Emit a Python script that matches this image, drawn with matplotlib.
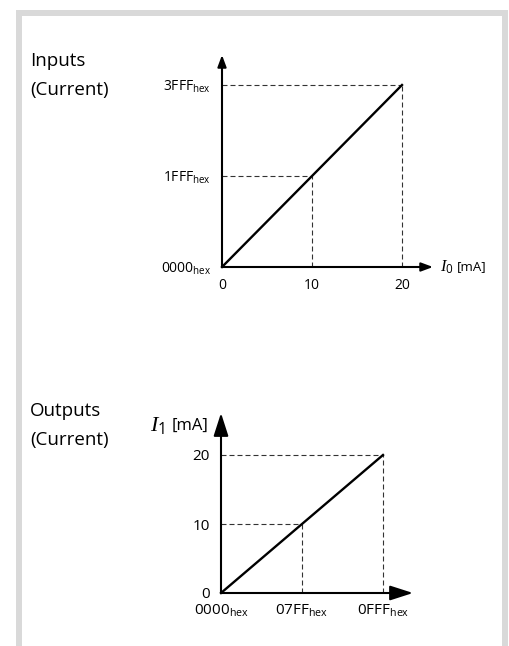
import matplotlib.pyplot as plt
from matplotlib.patches import Rectangle

plt.rcParams['font.family'] = ['Open Sans', 'DejaVu Sans']
plt.rcParams['mathtext.fontset'] = 'custom'
plt.rcParams['mathtext.rm'] = 'Open Sans'
plt.rcParams['mathtext.it'] = 'Liberation Serif:italic'

# Inputs: current [mA] -> hex code
in_current = [0, 10, 20]
in_code = [0x0000, 0x1FFF, 0x3FFF]
in_code_labels = ['0000', '1FFF', '3FFF']

# Outputs: hex code -> current [mA]
out_code = [0x0000, 0x07FF, 0x0FFF]
out_code_labels = ['0000', '07FF', '0FFF']
out_current = [0, 10, 20]

W, H = 509, 646
GRAY = '#d9d9d9'


def axes_rect(x0, y0, x_tip, y_tip):
    # pixel positions (origin and arrow tips) -> figure fraction
    return [x0 / W, 1 - y0 / H, (x_tip - x0) / W, (y0 - y_tip) / H]


def hexlab(s):
    return s + r'$_{\mathrm{hex}}$'


def draw_panel(ax, xs, ys, xmax, ymax, xlabels, ylabels, fs, head, xpad, ypad):
    ax.set_xlim(0, xmax)
    ax.set_ylim(0, ymax)
    for s in ax.spines.values():
        s.set_visible(False)
    ax.patch.set_alpha(0)

    # dashed guides
    for x, y in zip(xs[1:], ys[1:]):
        ax.hlines(y, 0, x, colors='#333333', lw=0.8, linestyles=(0, (4.5, 2.7)), zorder=1)
        ax.vlines(x, 0, y, colors='#333333', lw=0.8, linestyles=(0, (4.5, 2.7)), zorder=1)

    ax.plot(xs, ys, color='black', lw=1.7, clip_on=False, zorder=3)

    # axes with arrows
    hl, hw = head
    style = f'-|>,head_length={hl},head_width={hw}'
    for tip in [(1, 0), (0, 1)]:
        ax.annotate('', xy=tip, xytext=(0, 0), xycoords='axes fraction',
                    arrowprops=dict(arrowstyle=style, lw=1.5, color='black',
                                    shrinkA=0, shrinkB=0, mutation_scale=1),
                    zorder=4)

    ax.set_xticks(xs, labels=xlabels)
    ax.set_yticks(ys, labels=ylabels)
    ax.tick_params(axis='x', length=0, labelsize=fs, pad=xpad)
    ax.tick_params(axis='y', length=0, labelsize=fs, pad=ypad)


fig = plt.figure(figsize=(W / 100, H / 100), dpi=100)

# gray frame
for x, y, w, h in [(16, 10, 492, 6), (16, 10, 6, 636), (502, 10, 6, 636)]:
    fig.patches.append(Rectangle((x / W, 1 - (y + h) / H), w / W, h / H,
                                 transform=fig.transFigure, color=GRAY, lw=0))

# top panel: inputs
ax1 = fig.add_axes(axes_rect(222, 267, 433, 55))
draw_panel(ax1, in_current, in_code,
           20 * 211 / 180, in_code[-1] * 212 / 182,
           [str(v) for v in in_current], [hexlab(s) for s in in_code_labels],
           10, (7, 2.6), 8, 8)
ax1.annotate(r'$I_{\mathrm{0}}$', xy=(1, 0), xycoords='axes fraction',
             xytext=(5, 0), textcoords='offset points',
             ha='left', va='center', fontsize=12)
ax1.annotate('[mA]', xy=(1, 0), xycoords='axes fraction',
             xytext=(17, 0), textcoords='offset points',
             ha='left', va='center', fontsize=9.5)

# bottom panel: outputs
ax2 = fig.add_axes(axes_rect(221, 593, 413, 413))
draw_panel(ax2, out_code, out_current,
           out_code[-1] * 192 / 162, 20 * 180 / 138,
           [hexlab(s) for s in out_code_labels], [str(v) for v in out_current],
           11, (14, 4.5), 7, 8)
ax2.annotate('[mA]', xy=(0, 1), xycoords='axes fraction',
             xytext=(-9, -9), textcoords='offset points',
             ha='right', va='center', fontsize=12)
ax2.annotate(r'$I_{\mathrm{1}}$', xy=(0, 1), xycoords='axes fraction',
             xytext=(-40, -9), textcoords='offset points',
             ha='right', va='center', fontsize=16)

# panel titles
fig.text(30 / W, 1 - 66 / H, 'Inputs', fontsize=13.5, va='baseline')
fig.text(30 / W, 1 - 95 / H, '(Current)', fontsize=13.5, va='baseline')
fig.text(30 / W, 1 - 416 / H, 'Outputs', fontsize=13.5, va='baseline')
fig.text(30 / W, 1 - 445 / H, '(Current)', fontsize=13.5, va='baseline')

fig.savefig('out.png', dpi=100)
